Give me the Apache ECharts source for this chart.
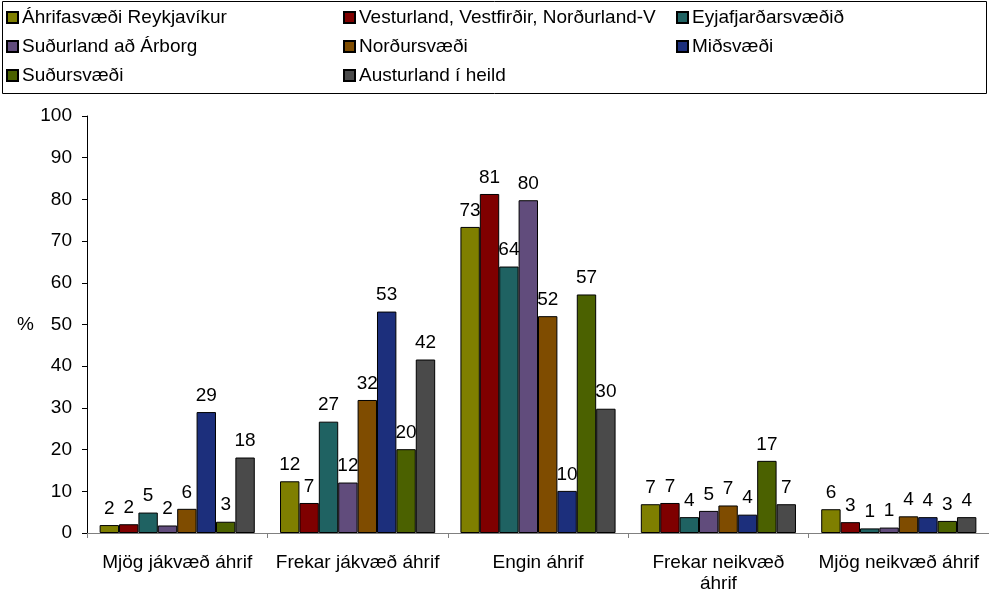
<!DOCTYPE html>
<html>
<head>
<meta charset="utf-8">
<script src="https://cdn.jsdelivr.net/npm/echarts@6/dist/echarts.min.js"></script>
<style>
  html, body { margin: 0; padding: 0; background: #fff; }
  #chart { width: 989px; height: 594px; }
</style>
</head>
<body>
<div id="chart"></div>
<script>
// categories on the x axis
const categories = ['Mjög jákvæð áhrif', 'Frekar jákvæð áhrif', 'Engin áhrif', 'Frekar neikvæð\náhrif', 'Mjög neikvæð áhrif'];

// % per region
const reykjavik   = [1.9, 12.4, 73.4, 6.9, 5.7];
const vesturland  = [2.1, 7.2, 81.3, 7.2, 2.6];
const eyjafjordur = [4.9, 26.7, 63.9, 3.8, 1.1];
const sudurland   = [1.8, 12.1, 79.8, 5.3, 1.3];
const nordur      = [5.8, 31.9, 52.0, 6.6, 4.0];
const midsvaedi   = [29.0, 53.1, 10.1, 4.4, 3.8];
const sudursvaedi = [2.7, 20.1, 57.2, 17.3, 2.9];
const austurland  = [18.1, 41.6, 29.8, 6.9, 3.8];

const names = [
    'Áhrifasvæði Reykjavíkur', 'Vesturland, Vestfirðir, Norðurland-V', 'Eyjafjarðarsvæðið',
    'Suðurland að Árborg', 'Norðursvæði', 'Miðsvæði', 'Suðursvæði', 'Austurland í heild'
];
const values = [reykjavik, vesturland, eyjafjordur, sudurland, nordur, midsvaedi, sudursvaedi, austurland];
const colors = ['#7f7f00', '#7f0000', '#1f6262', '#614c7c', '#7f4c00', '#1c2f7c', '#4b6100', '#4a4a4a'];

const font = "'Liberation Sans', Arial, sans-serif";
const fs = 19;

const chart = echarts.init(document.getElementById('chart'));

function legendCol(left, data) {
    return {
        orient: 'vertical',
        left: left,
        top: 3,
        itemWidth: 11,
        itemHeight: 11,
        itemGap: 10,
        selectedMode: false,
        icon: 'rect',
        textStyle: {fontFamily: font, fontSize: fs, color: '#000', padding: [0, 0, 0, -1]},
        data: data,
    };
}

chart.setOption({
    animation: false,
    color: colors,
    textStyle: {fontFamily: font},
    legend: [
        legendCol(1, [names[0], names[3], names[6]]),
        legendCol(338, [names[1], names[4], names[7]]),
        legendCol(671, [names[2], names[5]]),
    ],
    graphic: [{
        type: 'rect',
        shape: {x: 2.5, y: 1.5, width: 984, height: 92},
        style: {fill: 'none', stroke: '#000', lineWidth: 1},
    }],
    grid: {left: 87, right: 0, top: 116, bottom: 60},
    xAxis: {
        type: 'category',
        data: categories,
        axisLine: {lineStyle: {color: '#808080'}},
        axisTick: {show: true, length: 5, lineStyle: {color: '#808080'}},
        axisLabel: {color: '#000', fontSize: fs, fontFamily: font, margin: 19, lineHeight: 21, interval: 0},
    },
    yAxis: {
        type: 'value',
        min: 0,
        max: 100,
        interval: 10,
        name: '%',
        nameLocation: 'middle',
        nameRotate: 0,
        nameGap: 53,
        nameTextStyle: {color: '#000', fontSize: fs, fontFamily: font},
        axisLine: {show: true, lineStyle: {color: '#000'}},
        axisTick: {show: true, length: 5, lineStyle: {color: '#000'}},
        axisLabel: {color: '#000', fontSize: fs, fontFamily: font, margin: 15},
        splitLine: {show: false},
    },
    series: names.map((n, i) => ({
        name: n,
        type: 'bar',
        data: values[i],
        barGap: 0,
        barCategoryGap: '14%',
        itemStyle: {borderColor: '#000', borderWidth: 1},
        label: {
            show: true,
            position: 'top',
            distance: 7,
            color: '#000',
            fontSize: fs,
            fontFamily: font,
            formatter: p => Math.round(p.value),
        },
    })),
});
</script>
</body>
</html>
